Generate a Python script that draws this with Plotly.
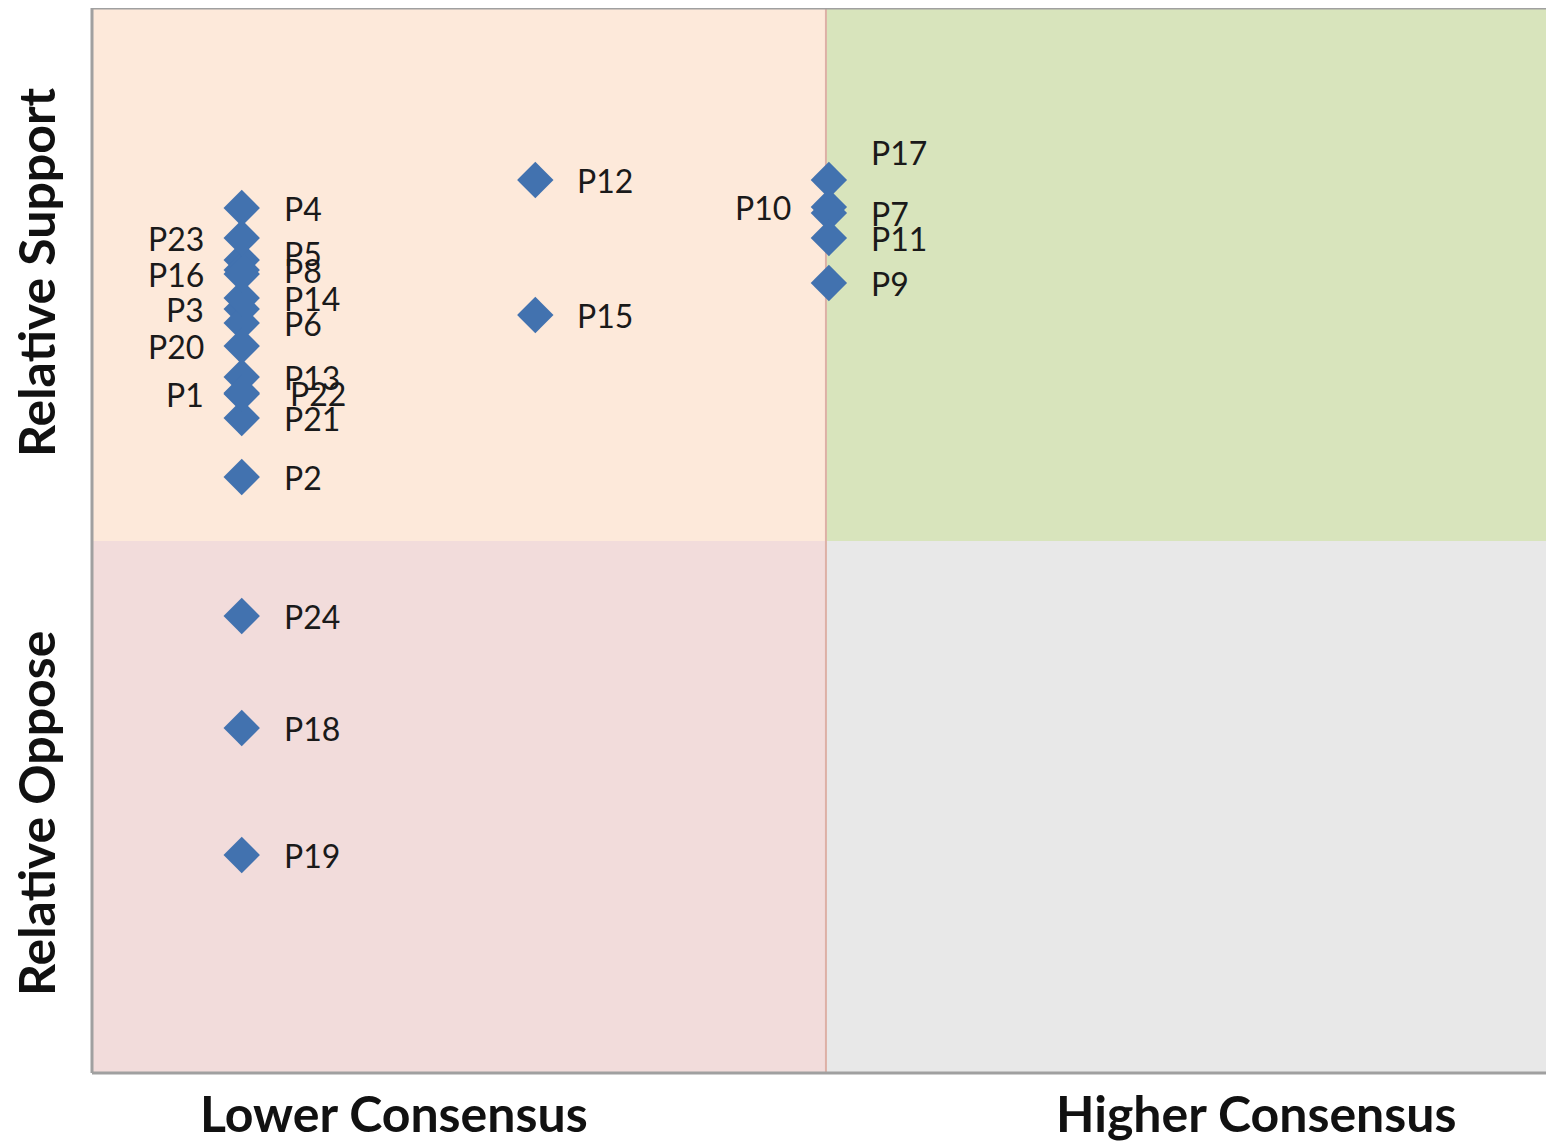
import plotly.graph_objects as go

# ---- data ----
labels = ["P1", "P2", "P3", "P4", "P5", "P6", "P7", "P8", "P9", "P10", "P11", "P12",
          "P13", "P14", "P15", "P16", "P17", "P18", "P19", "P20", "P21", "P22", "P23", "P24"]
consensus = [1, 1, 1, 1, 1, 1, 3, 1, 3, 3, 3, 2,
             1, 1, 2, 1, 3, 1, 1, 1, 1, 1, 1, 1]
support = [1.47, 0.64, 2.32, 3.33, 2.81, 2.18, 3.28, 2.71, 2.58, 3.34, 3.03, 3.61,
           1.64, 2.43, 2.26, 2.67, 3.61, -1.87, -3.14, 1.95, 1.23, 1.48, 3.03, -0.75]
left_labels = ["P1", "P3", "P10", "P16", "P20", "P23"]
x_titles = ["Lower Consensus", "Higher Consensus"]
y_titles = ["Relative Support", "Relative Oppose"]

X_RANGE = [0.49, 5.47]
Y_RANGE = [-5.32, 5.33]
X_MID = 2.99
Y_MID = 0.0

fig = go.Figure()

fig.add_trace(go.Scatter(
    x=consensus, y=support, mode="markers",
    marker=dict(symbol="diamond", size=28, color="#4272AF", line=dict(width=0)),
    hoverinfo="text", text=labels, showlegend=False,
))

label_font = dict(family="Lato, Liberation Sans, sans-serif", size=32, color="#1a1a1a")
special_shift = {"P17": (0, 28), "P5": (0, 7), "P22": (6, 0)}
for name, xv, yv in zip(labels, consensus, support):
    left = name in left_labels
    dx, dy = special_shift.get(name, (0, 0))
    fig.add_annotation(
        x=xv, y=yv, text=name, showarrow=False,
        xanchor="right" if left else "left", yanchor="middle",
        xshift=(-36 if left else 40) + dx, yshift=dy,
        font=label_font,
    )

# quadrant backgrounds
quad = [
    (X_RANGE[0], X_MID, Y_MID, Y_RANGE[1], "#FDE9DA"),
    (X_MID, X_RANGE[1], Y_MID, Y_RANGE[1], "#D8E4BC"),
    (X_RANGE[0], X_MID, Y_RANGE[0], Y_MID, "#F2DCDB"),
    (X_MID, X_RANGE[1], Y_RANGE[0], Y_MID, "#E8E8E8"),
]
for x0, x1, y0, y1, c in quad:
    fig.add_shape(type="rect", xref="x", yref="y", x0=x0, x1=x1, y0=y0, y1=y1,
                  fillcolor=c, line=dict(width=0), layer="below")
fig.add_shape(type="line", xref="x", yref="y", x0=X_MID, x1=X_MID,
              y0=Y_RANGE[0], y1=Y_RANGE[1], line=dict(color="#DDB0A6", width=2), layer="below")

# border (left, top, bottom)
border = dict(color="#A0A0A0", width=3)
fig.add_shape(type="line", xref="paper", yref="paper", x0=0, x1=0, y0=0, y1=1, line=border)
fig.add_shape(type="line", xref="paper", yref="paper", x0=0, x1=1, y0=1, y1=1, line=border)
fig.add_shape(type="line", xref="paper", yref="paper", x0=0, x1=1, y0=0, y1=0, line=border)

title_font = dict(family="Lato, Liberation Sans, sans-serif", size=50, color="#111111")
for t, xv in zip(x_titles, [0.2066, 0.796]):
    fig.add_annotation(x=xv, xref="paper", y=0, yref="paper", yshift=-40, text="<b>%s</b>" % t,
                       showarrow=False, xanchor="center", yanchor="middle", font=title_font)
for t, yv in zip(y_titles, [2.69, -2.73]):
    fig.add_annotation(x=0, xref="paper", y=yv, yref="y", xshift=-56, text="<b>%s</b>" % t,
                       showarrow=False, textangle=-90, xanchor="center", yanchor="middle",
                       font=title_font)

fig.update_xaxes(range=X_RANGE, showgrid=False, zeroline=False, showticklabels=False,
                 ticks="", showline=False)
fig.update_yaxes(range=Y_RANGE, showgrid=False, zeroline=False, showticklabels=False,
                 ticks="", showline=False)
fig.update_layout(
    width=1546, height=1135,
    margin=dict(l=84, r=0, t=0, b=70),
    paper_bgcolor="white", plot_bgcolor="white",
)

fig.write_html("out.html")
